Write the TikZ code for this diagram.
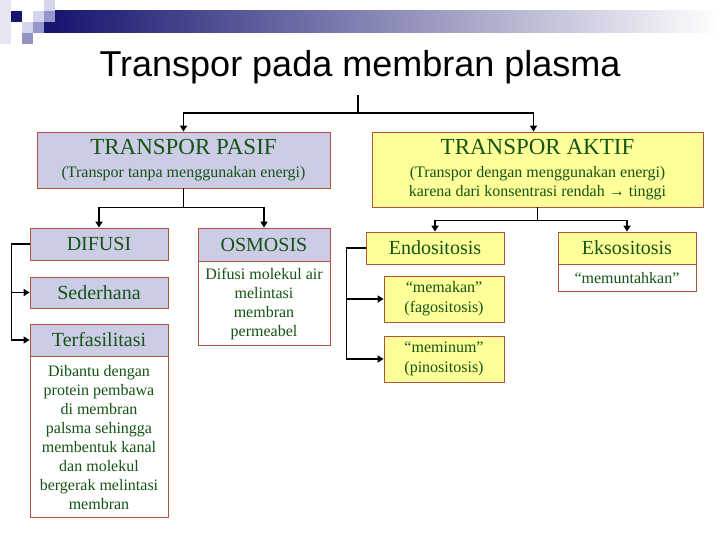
\documentclass[tikz,border=0pt]{standalone}
\usepackage{fontspec}
\setmainfont{Liberation Serif}
\newfontfamily\titlefont{Liberation Sans}
\usetikzlibrary{arrows.meta}
\definecolor{navybar}{RGB}{22,22,112}
\definecolor{palesq}{RGB}{212,212,236}
\definecolor{midsq}{RGB}{150,150,202}
\definecolor{lavfill}{RGB}{204,204,230}
\definecolor{yelfill}{RGB}{255,255,153}
\definecolor{boxline}{RGB}{172,86,62}
\definecolor{txtgreen}{RGB}{20,84,20}

\begin{document}
\begin{tikzpicture}[x=1pt, y=-1pt,
    every node/.style={text=txtgreen, inner sep=0pt},
    box/.style={rectangle, draw=boxline, line width=0.8pt, align=center},
    mainbox/.style={box, font=\fontsize{16}{19}\selectfont},
    lavbox/.style={box, fill=lavfill, minimum width=138, minimum height=32,
        font=\fontsize{20}{24}\selectfont},
    yelbox/.style={box, fill=yelfill, minimum width=138, minimum height=32,
        font=\fontsize{20}{24}\selectfont},
    descbox/.style={box, fill=white, anchor=north,
        font=\fontsize{16}{19}\selectfont},
    arrow/.style={->, >={Triangle[length=6pt,width=7pt]}, line width=1.6pt, draw=black}
  ]
  \useasboundingbox (0,0) rectangle (720,540);
  \fill[white] (0,0) rectangle (720,540);

  \fill[palesq!60] (0,0) rectangle (11,44);
  \fill[navybar] (11,11) rectangle (22,22);
  \fill[palesq] (44,0) rectangle (55,11);
  \fill[palesq] (33,11) rectangle (44,22);
  \fill[midsq] (44,11) rectangle (55,22);
  \fill[palesq] (22,22) rectangle (33,33);
  \fill[midsq] (33,22) rectangle (44,33);
  \fill[navybar] (44,22) rectangle (55,33);
  \fill[midsq!85!gray] (22,33) rectangle (33,44);
  \shade[left color=navybar, right color=white] (55,11) rectangle (720,33);

  \node[font=\titlefont\fontsize{36}{42}\selectfont, text=black]
  (title) at (360,67) {Transpor pada membran plasma};
  \coordinate (split) at (358,95);

  \node[mainbox, fill=lavfill, minimum width=293, minimum height=56]
  (pasif) at (183.5,160)
  {\fontsize{23}{26}\selectfont TRANSPOR PASIF\\[4pt]
    (Transpor tanpa menggunakan energi)};
  \node[mainbox, fill=yelfill, minimum width=331, minimum height=75]
  (aktif) at (537.5,169.5)
  {\fontsize{23}{26}\selectfont TRANSPOR AKTIF\\[4pt]
    (Transpor dengan menggunakan energi)\\
    karena dari konsentrasi rendah → tinggi};

  \draw[arrow] (split) -- ++(0,18) -| (pasif.north);
  \draw[arrow] (split) -- ++(0,18) -| ([xshift=-4pt]aktif.north);

  \node[lavbox] (difusi) at (99,244) {DIFUSI};
  \node[lavbox, minimum height=31] (sederhana) at (99,292.5) {Sederhana};
  \node[lavbox] (fasil) at (99,340) {Terfasilitasi};
  \node[descbox, minimum width=138, minimum height=161]
  (fasdesc) at (fasil.south)
  {Dibantu dengan\\protein pembawa\\di membran\\palsma sehingga\\
    membentuk kanal\\dan molekul\\bergerak melintasi\\membran};

  \node[lavbox, minimum width=132, minimum height=33] (osmosis) at (264,244.5) {OSMOSIS};
  \node[descbox, minimum width=132, minimum height=84]
  (osmdesc) at (osmosis.south)
  {Difusi molekul air\\melintasi\\membran\\permeabel};

  \draw[arrow] (pasif.south) -- ++(0,19) -| (difusi.north);
  \draw[arrow] (pasif.south) -- ++(0,19) -| (osmosis.north);
  \draw[arrow] (difusi.west) -- ++(-18,0) |- (sederhana.west);
  \draw[arrow] (difusi.west) -- ++(-18,0) |- (fasil.west);

  \node[yelbox] (endo) at (435,248) {Endositosis};
  \node[yelbox] (ekso) at (627,248) {Eksositosis};
  \node[descbox, minimum width=138, minimum height=27]
  (eksodesc) at (ekso.south) {“memuntahkan”};

  \node[yelbox, minimum width=120, minimum height=46,
    font=\fontsize{16}{20}\selectfont]
  (memakan) at (444,299) {“memakan”\\(fagositosis)};
  \node[yelbox, minimum width=120, minimum height=46,
    font=\fontsize{16}{20}\selectfont]
  (meminum) at (444,359) {“meminum”\\(pinositosis)};

  \draw[arrow] (aktif.south) -- ++(0,13) -| (endo.north);
  \draw[arrow] (aktif.south) -- ++(0,13) -| (ekso.north);
  \draw[arrow] (endo.west) -- ++(-19,0) |- (memakan.west);
  \draw[arrow] (endo.west) -- ++(-19,0) |- (meminum.west);
\end{tikzpicture}
\end{document}
